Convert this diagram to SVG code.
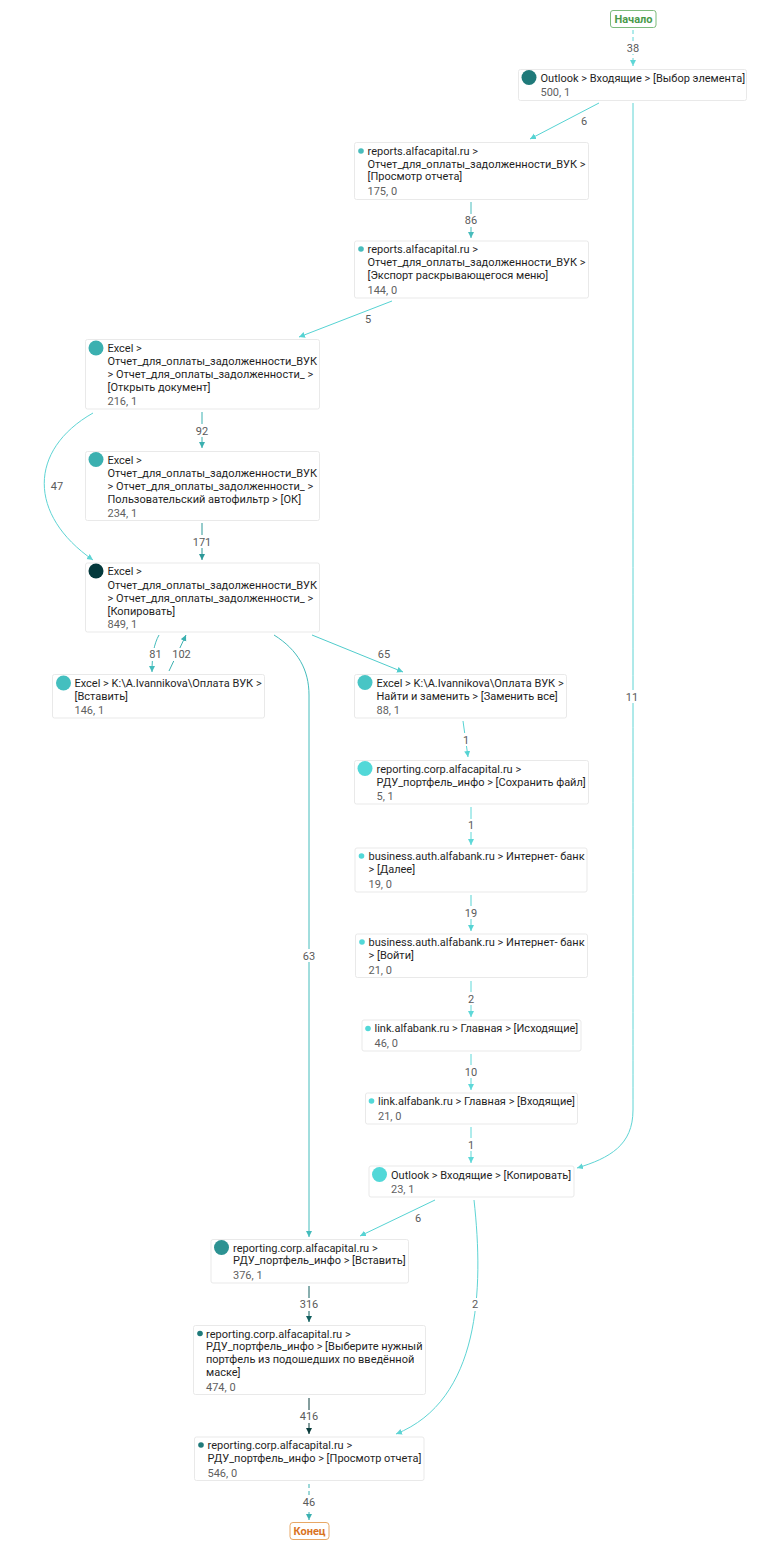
<svg xmlns="http://www.w3.org/2000/svg" width="763" height="1554" viewBox="0 0 763 1554">
<style>
text{font-family:Roboto,"Noto Sans",sans-serif;font-size:11px;fill:#1f1f1f}
.n{fill:#fff;stroke:#e9e9e9;stroke-width:1}
.s{fill:#5f5f5f}
.l{fill:#5a5a5a;text-anchor:middle}
.e{fill:none;stroke-width:1}
.bg{fill:#fff}
</style>
<defs>
<marker id="a" markerUnits="userSpaceOnUse" markerWidth="7" markerHeight="7" refX="6" refY="3" orient="auto"><path d="M0 0L6 3L0 6z" fill="context-stroke"/></marker>
</defs>
<rect width="763" height="1554" fill="#fff"/>
<g id="connectors">
<path class="e" d="M633 30V66" stroke="#5fd6d6" stroke-dasharray="4 3" marker-end="url(#a)"/>
<path class="e" d="M599 103L530 139" stroke="#56d3d3" marker-end="url(#a)"/>
<path class="e" d="M633 103V400C633 700 633 1000 633 1110C633 1145 610 1158 577 1168" stroke="#5ed4d4" marker-end="url(#a)"/>
<path class="e" d="M471 202V238" stroke="#48bcbc" marker-end="url(#a)"/>
<path class="e" d="M392 301L299 337" stroke="#56d3d3" marker-end="url(#a)"/>
<path class="e" d="M202 412V448" stroke="#3bb0b0" marker-end="url(#a)"/>
<path class="e" d="M93 413C28 450 28 515 93 560" stroke="#5ed4d4" marker-end="url(#a)"/>
<path class="e" d="M202 523V560" stroke="#2c9898" marker-end="url(#a)"/>
<path class="e" d="M159 635C154 644 152 655 152 672" stroke="#44bcbc" marker-end="url(#a)"/>
<path class="e" d="M169 671L186 635" stroke="#3bb0b0" marker-end="url(#a)"/>
<path class="e" d="M274 635C298 650 309 670 309 695V1237" stroke="#44bcbc" marker-end="url(#a)"/>
<path class="e" d="M312 635L403 672" stroke="#50cccc" marker-end="url(#a)"/>
<path class="e" d="M463 721L468 757" stroke="#56d3d3" marker-end="url(#a)"/>
<path class="e" d="M471 807V845" stroke="#5ed8d8" marker-end="url(#a)"/>
<path class="e" d="M471 895V931" stroke="#56d3d3" marker-end="url(#a)"/>
<path class="e" d="M471 981V1017" stroke="#5ed8d8" marker-end="url(#a)"/>
<path class="e" d="M471 1054V1090" stroke="#5ed8d8" marker-end="url(#a)"/>
<path class="e" d="M471 1127V1163" stroke="#5ed8d8" marker-end="url(#a)"/>
<path class="e" d="M435 1200L360 1236" stroke="#56d3d3" marker-end="url(#a)"/>
<path class="e" d="M474 1200C484 1290 480 1400 396 1434" stroke="#5ed4d4" marker-end="url(#a)"/>
<path class="e" d="M309 1286V1322" stroke="#125f5f" marker-end="url(#a)"/>
<path class="e" d="M309 1398V1434" stroke="#0a3c3c" marker-end="url(#a)"/>
<path class="e" d="M309 1484V1520" stroke="#3bb0b0" stroke-dasharray="4 3" marker-end="url(#a)"/>
<rect class="bg" x="625" y="41" width="16" height="13"/><text class="l" x="633" y="52">38</text>
<text class="l" x="584" y="125">6</text>
<rect class="bg" x="625" y="690" width="16" height="13"/><text class="l" x="632" y="701">11</text>
<rect class="bg" x="463" y="214" width="16" height="13"/><text class="l" x="471" y="224">86</text>
<text class="l" x="368" y="323">5</text>
<rect class="bg" x="194" y="424" width="16" height="13"/><text class="l" x="202" y="435">92</text>
<rect class="bg" x="49" y="479" width="16" height="13"/><text class="l" x="57" y="490">47</text>
<rect class="bg" x="192" y="535" width="20" height="13"/><text class="l" x="202" y="546">171</text>
<rect class="bg" x="148" y="648" width="15" height="13"/><text class="l" x="155.5" y="658">81</text>
<rect class="bg" x="171" y="648" width="21" height="13"/><text class="l" x="181.5" y="658">102</text>
<text class="l" x="384" y="658">65</text>
<rect class="bg" x="301" y="949" width="16" height="13"/><text class="l" x="309" y="960">63</text>
<rect class="bg" x="462" y="733" width="10" height="13"/><text class="l" x="466" y="744">1</text>
<rect class="bg" x="467" y="819" width="9" height="13"/><text class="l" x="471" y="829">1</text>
<rect class="bg" x="463" y="906" width="16" height="13"/><text class="l" x="471" y="917">19</text>
<rect class="bg" x="466" y="992" width="10" height="13"/><text class="l" x="471" y="1003">2</text>
<rect class="bg" x="463" y="1065" width="16" height="13"/><text class="l" x="471" y="1076">10</text>
<rect class="bg" x="467" y="1138" width="9" height="13"/><text class="l" x="471" y="1149">1</text>
<text class="l" x="418" y="1222">6</text>
<rect class="bg" x="470" y="1298" width="10" height="13"/><text class="l" x="475" y="1308">2</text>
<rect class="bg" x="299" y="1298" width="20" height="13"/><text class="l" x="309" y="1308">316</text>
<rect class="bg" x="299" y="1410" width="20" height="13"/><text class="l" x="309" y="1420">416</text>
<rect class="bg" x="301" y="1496" width="16" height="13"/><text class="l" x="309" y="1506">46</text>
</g>
<g id="start"><rect x="610.5" y="10.5" width="45.5" height="17" rx="2.5" fill="#fff" stroke="#7dbb7d"/><text x="633.5" y="23" text-anchor="middle" font-weight="700" style="fill:#4a9a4a">Начало</text></g>
<g id="n1"><rect class="n" x="518.5" y="69.5" width="228" height="31" rx="2"/><circle cx="529" cy="77.5" r="7.5" fill="#1f7a7a"/><text x="540.5" y="82">Outlook &gt; Входящие &gt; [Выбор элемента]</text><text class="s" x="540.5" y="96">500, 1</text></g>
<g id="n2"><rect class="n" x="354.5" y="142.5" width="234" height="57" rx="2"/><circle cx="361" cy="151" r="2.8" fill="#48bcbc"/><text x="367.5" y="155">reports.alfacapital.ru &gt;</text><text x="367.5" y="168">Отчет_для_оплаты_задолженности_ВУК &gt;</text><text x="367.5" y="180">[Просмотр отчета]</text><text class="s" x="367.5" y="195">175, 0</text></g>
<g id="n3"><rect class="n" x="354.5" y="241" width="234" height="57" rx="2"/><circle cx="361" cy="249" r="2.8" fill="#48bcbc"/><text x="367.5" y="253">reports.alfacapital.ru &gt;</text><text x="367.5" y="266">Отчет_для_оплаты_задолженности_ВУК &gt;</text><text x="367.5" y="279">[Экспорт раскрывающегося меню]</text><text class="s" x="367.5" y="294">144, 0</text></g>
<g id="n4"><rect class="n" x="85.5" y="339.5" width="234" height="69.5" rx="2"/><circle cx="96" cy="348" r="7.5" fill="#3bb0b0"/><text x="107.5" y="352">Excel &gt;</text><text x="107.5" y="365">Отчет_для_оплаты_задолженности_ВУК</text><text x="107.5" y="378">&gt; Отчет_для_оплаты_задолженности_ &gt;</text><text x="107.5" y="391">[Открыть документ]</text><text class="s" x="107.5" y="405">216, 1</text></g>
<g id="n5"><rect class="n" x="85.5" y="451.5" width="234" height="69" rx="2"/><circle cx="96" cy="459.5" r="7.5" fill="#3bb0b0"/><text x="107.5" y="464">Excel &gt;</text><text x="107.5" y="477">Отчет_для_оплаты_задолженности_ВУК</text><text x="107.5" y="490">&gt; Отчет_для_оплаты_задолженности_ &gt;</text><text x="107.5" y="503">Пользовательский автофильтр &gt; [ОК]</text><text class="s" x="107.5" y="517">234, 1</text></g>
<g id="n6"><rect class="n" x="85.5" y="563" width="234" height="69" rx="2"/><circle cx="96" cy="571" r="7.5" fill="#04393c"/><text x="107.5" y="575">Excel &gt;</text><text x="107.5" y="589">Отчет_для_оплаты_задолженности_ВУК</text><text x="107.5" y="602">&gt; Отчет_для_оплаты_задолженности_ &gt;</text><text x="107.5" y="615">[Копировать]</text><text class="s" x="107.5" y="628">849, 1</text></g>
<g id="n7"><rect class="n" x="52.5" y="674.5" width="212" height="43.5" rx="2"/><circle cx="63.5" cy="683" r="7.5" fill="#44bfbf"/><text x="74.5" y="687">Excel &gt; K:\A.Ivannikova\Оплата ВУК &gt;</text><text x="74.5" y="700">[Вставить]</text><text class="s" x="74.5" y="714">146, 1</text></g>
<g id="n8"><rect class="n" x="354.5" y="674.5" width="212" height="43.5" rx="2"/><circle cx="365" cy="682.5" r="7.5" fill="#48c5c5"/><text x="376.5" y="687">Excel &gt; K:\A.Ivannikova\Оплата ВУК &gt;</text><text x="376.5" y="700">Найти и заменить &gt; [Заменить все]</text><text class="s" x="376.5" y="714">88, 1</text></g>
<g id="n9"><rect class="n" x="354.5" y="760.5" width="234" height="43.5" rx="2"/><circle cx="365" cy="768.5" r="7.5" fill="#52d8d8"/><text x="376.5" y="773">reporting.corp.alfacapital.ru &gt;</text><text x="376.5" y="786">РДУ_портфель_инфо &gt; [Сохранить файл]</text><text class="s" x="376.5" y="800">5, 1</text></g>
<g id="n10"><rect class="n" x="355" y="848" width="232" height="44" rx="2"/><circle cx="361.5" cy="856" r="2.8" fill="#52d8d8"/><text x="368.5" y="860">business.auth.alfabank.ru &gt; Интернет- банк</text><text x="368.5" y="873">&gt; [Далее]</text><text class="s" x="368.5" y="888">19, 0</text></g>
<g id="n11"><rect class="n" x="355.5" y="934" width="232" height="43.5" rx="2"/><circle cx="362" cy="942" r="2.8" fill="#52d8d8"/><text x="368.5" y="946">business.auth.alfabank.ru &gt; Интернет- банк</text><text x="368.5" y="959">&gt; [Войти]</text><text class="s" x="368.5" y="974">21, 0</text></g>
<g id="n12"><rect class="n" x="362" y="1020" width="219" height="31" rx="2"/><circle cx="368" cy="1028.5" r="2.8" fill="#52d8d8"/><text x="374.5" y="1032">link.alfabank.ru &gt; Главная &gt; [Исходящие]</text><text class="s" x="374.5" y="1047">46, 0</text></g>
<g id="n13"><rect class="n" x="365.5" y="1093" width="212" height="31" rx="2"/><circle cx="371.5" cy="1101" r="2.8" fill="#52d8d8"/><text x="378" y="1105">link.alfabank.ru &gt; Главная &gt; [Входящие]</text><text class="s" x="378" y="1120">21, 0</text></g>
<g id="n14"><rect class="n" x="369" y="1166" width="205" height="31" rx="2"/><circle cx="379.5" cy="1174.5" r="7.5" fill="#52d8d8"/><text x="391" y="1179">Outlook &gt; Входящие &gt; [Копировать]</text><text class="s" x="391" y="1193">23, 1</text></g>
<g id="n15"><rect class="n" x="211" y="1239.5" width="197.5" height="43.5" rx="2"/><circle cx="221.5" cy="1247.5" r="7.5" fill="#2c9292"/><text x="233" y="1252">reporting.corp.alfacapital.ru &gt;</text><text x="233" y="1264">РДУ_портфель_инфо &gt; [Вставить]</text><text class="s" x="233" y="1279">376, 1</text></g>
<g id="n16"><rect class="n" x="193.5" y="1325.5" width="232" height="69" rx="2"/><circle cx="200" cy="1333.5" r="2.8" fill="#1f7a7a"/><text x="206" y="1338">reporting.corp.alfacapital.ru &gt;</text><text x="206" y="1350">РДУ_портфель_инфо &gt; [Выберите нужный</text><text x="206" y="1363">портфель из подошедших по введённой</text><text x="206" y="1376">маске]</text><text class="s" x="206" y="1391">474, 0</text></g>
<g id="n17"><rect class="n" x="194.5" y="1437" width="229.5" height="43.5" rx="2"/><circle cx="201" cy="1445" r="2.8" fill="#1f7a7a"/><text x="207.5" y="1449">reporting.corp.alfacapital.ru &gt;</text><text x="207.5" y="1462">РДУ_портфель_инфо &gt; [Просмотр отчета]</text><text class="s" x="207.5" y="1477">546, 0</text></g>
<g id="end"><rect x="290" y="1522.5" width="39" height="17" rx="3" fill="#fff" stroke="#e8a866"/><text x="309.5" y="1535" text-anchor="middle" font-weight="700" style="fill:#d9741f">Конец</text></g>
</svg>
